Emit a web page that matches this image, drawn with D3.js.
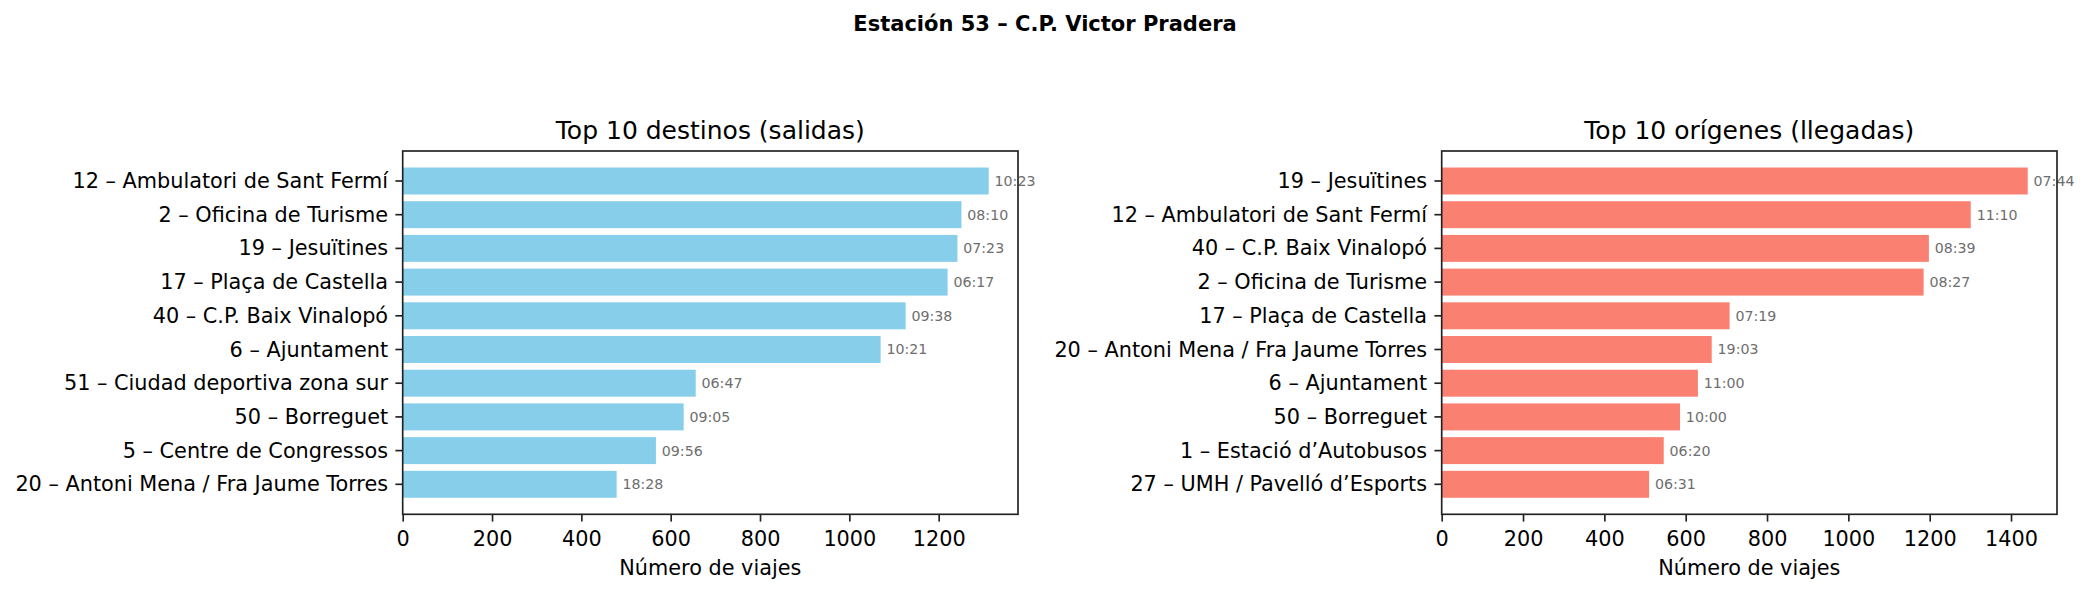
<!DOCTYPE html>
<html>
<head>
<meta charset="utf-8">
<script src="https://cdn.jsdelivr.net/npm/d3@7"></script>
<style>
  body { margin: 0; background: #fff; }
  svg { font-family: "DejaVu Sans", sans-serif; }
</style>
</head>
<body>
<svg width="2090" height="594"></svg>
<script>
const suptitle = "Estación 53 – C.P. Victor Pradera";

const destinos = [
    "12 – Ambulatori de Sant Fermí",
    "2 – Oficina de Turisme",
    "19 – Jesuïtines",
    "17 – Plaça de Castella",
    "40 – C.P. Baix Vinalopó",
    "6 – Ajuntament",
    "51 – Ciudad deportiva zona sur",
    "50 – Borreguet",
    "5 – Centre de Congressos",
    "20 – Antoni Mena / Fra Jaume Torres"
];
const salidas = [1312, 1251, 1242, 1220, 1126, 1070, 656, 629, 567, 479];
const horasSalidas = ["10:23", "08:10", "07:23", "06:17", "09:38", "10:21", "06:47", "09:05", "09:56", "18:28"];

const origenes = [
    "19 – Jesuïtines",
    "12 – Ambulatori de Sant Fermí",
    "40 – C.P. Baix Vinalopó",
    "2 – Oficina de Turisme",
    "17 – Plaça de Castella",
    "20 – Antoni Mena / Fra Jaume Torres",
    "6 – Ajuntament",
    "50 – Borreguet",
    "1 – Estació d’Autobusos",
    "27 – UMH / Pavelló d’Esports"
];
const llegadas = [1441, 1301, 1198, 1185, 708, 664, 630, 586, 546, 510];
const horasLlegadas = ["07:44", "11:10", "08:39", "08:27", "07:19", "19:03", "11:00", "10:00", "06:20", "06:31"];

const ticksSalidas = [0, 200, 400, 600, 800, 1000, 1200];
const ticksLlegadas = [0, 200, 400, 600, 800, 1000, 1200, 1400];

const svg = d3.select("svg");

svg.append("text")
    .attr("x", 1045)
    .attr("y", 31)
    .attr("text-anchor", "middle")
    .attr("font-size", 21)
    .attr("font-weight", "bold")
    .text(suptitle);

function drawPanel({ left, right, cats, values, labels, ticks, color, title }) {
    const top = 151, bottom = 514.3;
    const max = d3.max(values);

    const x = d3.scaleLinear()
        .domain([0, max * 1.05])
        .range([left, right]);

    const y = d3.scaleBand()
        .domain(cats)
        .range([top, bottom])
        .paddingInner(0.2)
        .paddingOuter(0.49);

    const g = svg.append("g");

    g.selectAll(".bar")
        .data(values)
        .enter()
        .append("rect")
        .attr("class", "bar")
        .attr("x", x(0))
        .attr("y", (d, i) => y(cats[i]))
        .attr("width", (d) => x(d) - x(0))
        .attr("height", y.bandwidth())
        .attr("fill", color);

    g.selectAll(".val")
        .data(values)
        .enter()
        .append("text")
        .attr("class", "val")
        .attr("x", (d) => x(d + max * 0.01))
        .attr("y", (d, i) => y(cats[i]) + y.bandwidth() / 2)
        .attr("dy", "0.35em")
        .attr("font-size", 14.2)
        .attr("fill", "#6e6e6e")
        .text((d, i) => labels[i]);

    const xAxis = g.append("g")
        .attr("transform", `translate(0,${bottom})`)
        .call(d3.axisBottom(x).tickValues(ticks).tickFormat(d3.format("d"))
            .tickSize(7.3).tickPadding(9.2).tickSizeOuter(0));

    const yAxis = g.append("g")
        .attr("transform", `translate(${left},0)`)
        .call(d3.axisLeft(y).tickSize(7.3).tickPadding(7.3).tickSizeOuter(0));

    [xAxis, yAxis].forEach((a) => {
        a.select(".domain").remove();
        a.selectAll("line").attr("stroke", "#222").attr("stroke-width", 1.67);
        a.selectAll("text")
            .attr("font-family", "DejaVu Sans, sans-serif")
            .attr("font-size", 20.8)
            .attr("fill", "#000");
    });
    yAxis.selectAll("text").attr("dy", "0.34em");

    g.append("rect")
        .attr("x", left)
        .attr("y", top)
        .attr("width", right - left)
        .attr("height", bottom - top)
        .attr("fill", "none")
        .attr("stroke", "#222")
        .attr("stroke-width", 1.67);

    g.append("text")
        .attr("x", (left + right) / 2)
        .attr("y", 139)
        .attr("text-anchor", "middle")
        .attr("font-size", 25)
        .text(title);

    g.append("text")
        .attr("x", (left + right) / 2)
        .attr("y", 575)
        .attr("text-anchor", "middle")
        .attr("font-size", 20.8)
        .text("Número de viajes");
}

drawPanel({
    left: 402.7, right: 1018,
    cats: destinos, values: salidas, labels: horasSalidas,
    ticks: ticksSalidas, color: "#87CEEB",
    title: "Top 10 destinos (salidas)"
});

drawPanel({
    left: 1441.7, right: 2057,
    cats: origenes, values: llegadas, labels: horasLlegadas,
    ticks: ticksLlegadas, color: "#FA8072",
    title: "Top 10 orígenes (llegadas)"
});
</script>
</body>
</html>
